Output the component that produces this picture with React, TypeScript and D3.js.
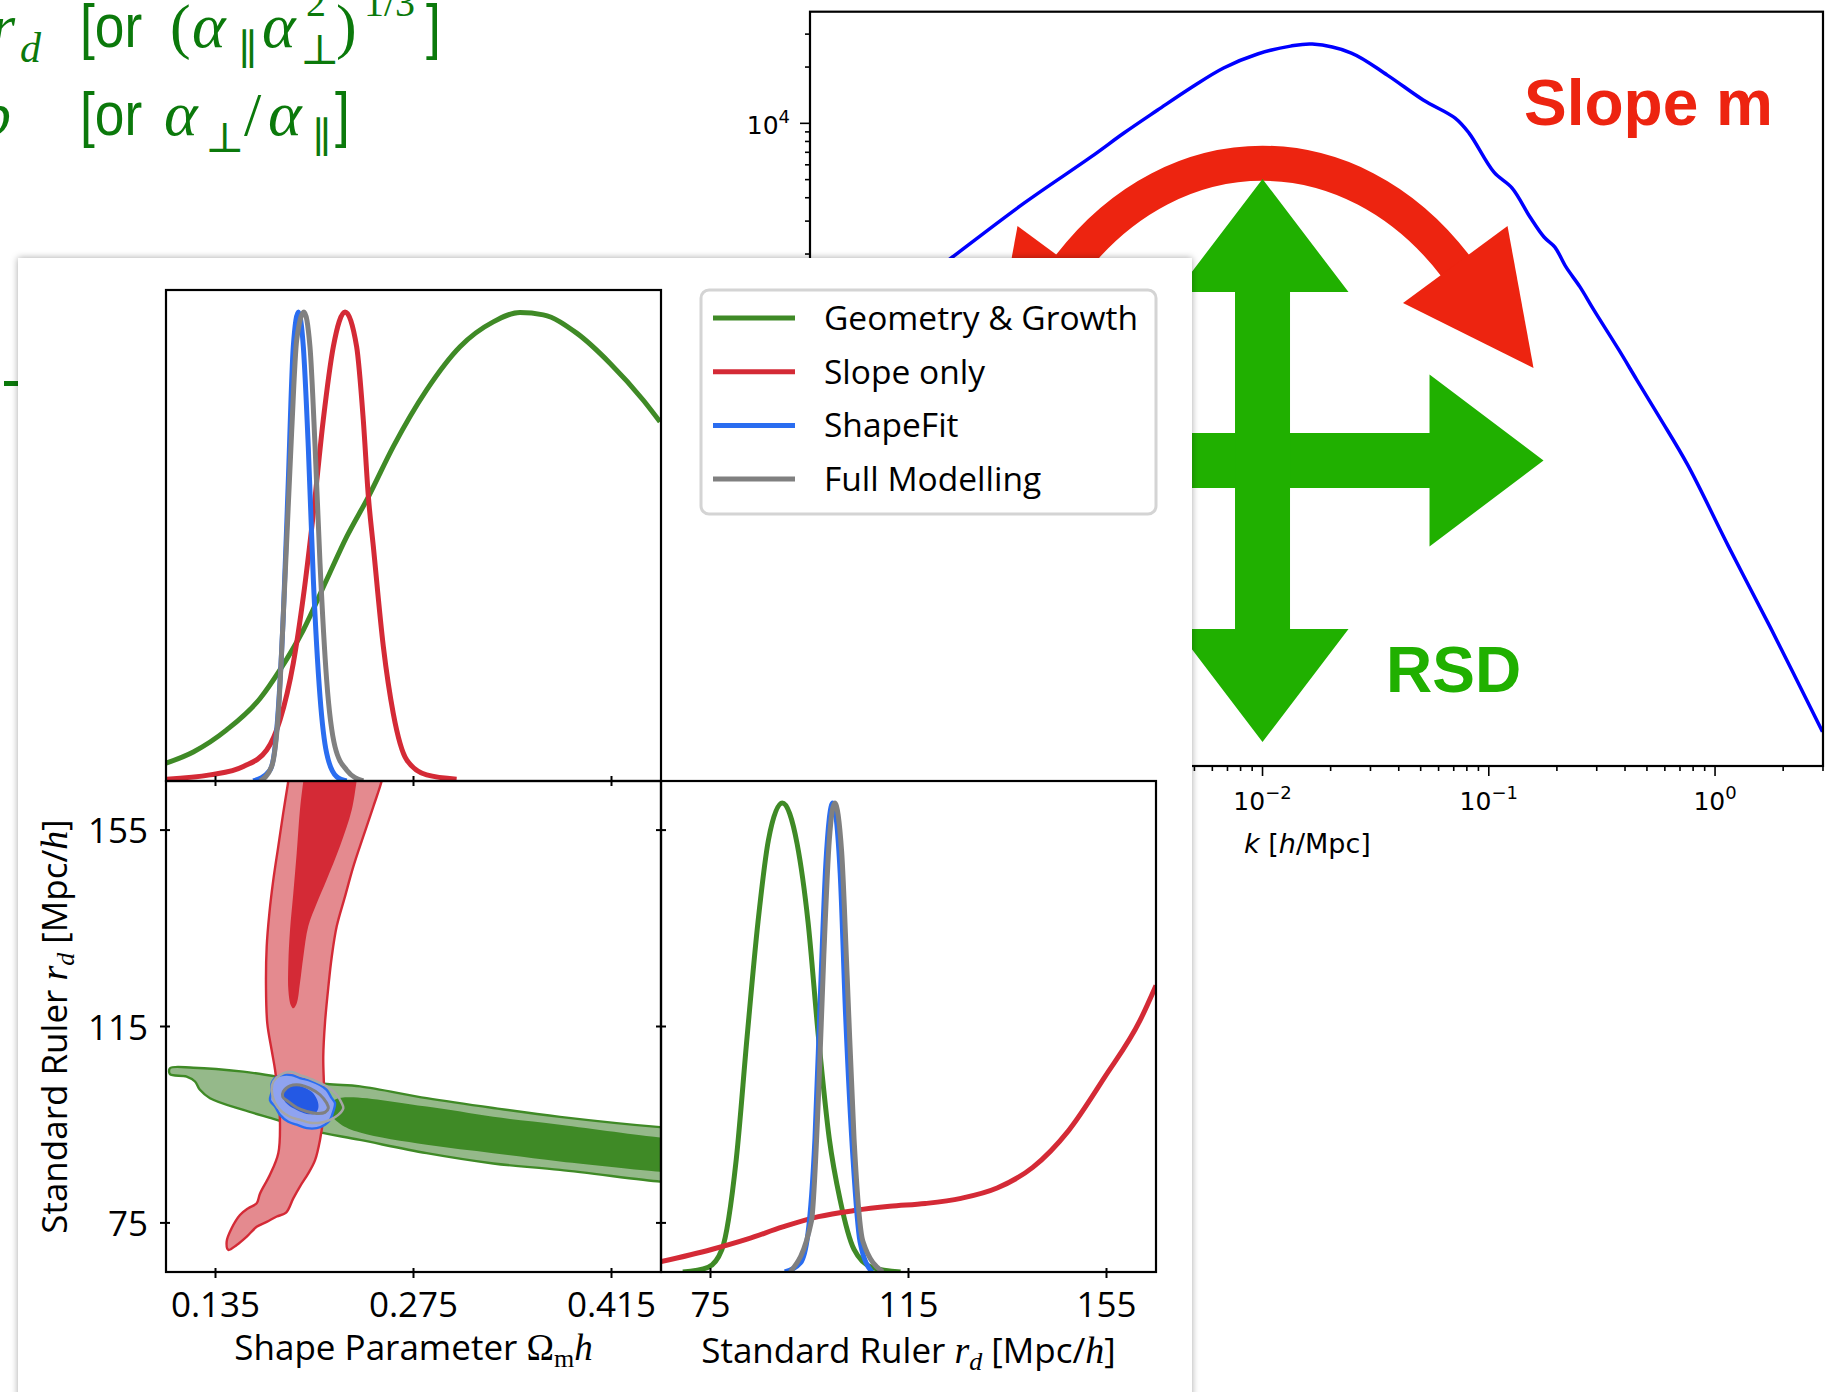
import React from 'react';
import * as d3 from 'd3';

const WIDTH = 1840;
const HEIGHT = 1392;

// ---------- background slide: linear matter power spectrum P(k) ----------
const pkK = [1.0e-4, 2.0e-4, 4.21e-4, 8.83e-4, 1.74e-3, 2.44e-3, 3.44e-3, 4.81e-3, 6.73e-3, 9.51e-3, 0.0133, 0.0166, 0.0247, 0.0356, 0.0513, 0.071, 0.0818, 0.1054, 0.1268, 0.1521, 0.1754, 0.1959, 0.2193, 0.2529, 0.2911, 0.3758, 0.4508, 0.5702, 0.7568, 1.148, 1.758, 2.985];
const pkP = [501, 955, 1905, 3741, 6592, 8872, 11776, 15453, 19770, 23496, 25882, 26546, 23768, 18113, 13335, 10666, 8872, 5483, 4508, 3155, 2466, 2178, 1706, 1334, 1005, 614, 425, 266, 149, 54.5, 20.1, 5.58];
const pkDomainK = [1e-4, 3];
const pkDomainP = [3.656, 39540];

// ---------- corner plot axes ----------
const omegaDomain = [0.1, 0.45];
const rdDomain = [65, 165];
const omegaTicks = [0.135, 0.275, 0.415];
const rdTicks = [75, 115, 155];

// ---------- 1D marginals in Omega_m h (peak-normalised) ----------
const omGeoX = [0.1, 0.1193, 0.1429, 0.1665, 0.1806, 0.1971, 0.2136, 0.2278, 0.2431, 0.2607, 0.2843, 0.3079, 0.3314, 0.3503, 0.3668, 0.3904, 0.4139, 0.4375, 0.4493];
const omGeoP = [0.038, 0.062, 0.109, 0.176, 0.237, 0.322, 0.429, 0.521, 0.606, 0.713, 0.834, 0.926, 0.979, 0.999, 0.994, 0.955, 0.891, 0.812, 0.766];
const omSlopeX = [0.1005, 0.1311, 0.1547, 0.1712, 0.1806, 0.19, 0.1971, 0.2042, 0.2112, 0.2183, 0.2266, 0.2348, 0.2395, 0.2431, 0.2466, 0.2537, 0.2607, 0.2702, 0.2843, 0.3055];
const omSlopeP = [0.004, 0.013, 0.031, 0.066, 0.13, 0.251, 0.393, 0.571, 0.77, 0.926, 1.0, 0.926, 0.77, 0.606, 0.5, 0.286, 0.144, 0.045, 0.013, 0.004];
const omShapeX = [0.1617, 0.1735, 0.1783, 0.183, 0.1865, 0.19, 0.1936, 0.1971, 0.2006, 0.2042, 0.2089, 0.2136, 0.2207, 0.2278];
const omShapeP = [0.0, 0.023, 0.109, 0.358, 0.642, 0.926, 1.0, 0.926, 0.713, 0.429, 0.18, 0.059, 0.009, 0.0];
const omFullX = [0.1665, 0.1747, 0.1794, 0.1841, 0.1889, 0.1924, 0.1976, 0.2018, 0.2054, 0.2089, 0.2136, 0.2195, 0.2278, 0.2395];
const omFullP = [0.0, 0.031, 0.144, 0.429, 0.748, 0.94, 1.0, 0.926, 0.713, 0.464, 0.215, 0.073, 0.023, 0.0];

// ---------- 1D marginals in r_d ----------
const rdGeoX = [69.4, 74.5, 77.3, 80.2, 82.4, 84.6, 86.7, 89.5, 92.5, 94.7, 96.8, 99.0, 101.2, 104.0, 107.6, 113.4];
const rdGeoP = [0.0, 0.01, 0.048, 0.24, 0.502, 0.747, 0.921, 1.0, 0.913, 0.747, 0.502, 0.284, 0.153, 0.048, 0.01, 0.0];
const rdSlopeX = [65, 75.2, 82.4, 89.6, 96.8, 104, 111.2, 118.4, 125.6, 132.9, 140.1, 147.3, 154.6, 161.8, 165];
const rdSlopeP = [0.022, 0.048, 0.07, 0.096, 0.118, 0.131, 0.14, 0.146, 0.157, 0.179, 0.223, 0.301, 0.415, 0.537, 0.611];
const rdShapeX = [90.0, 93.2, 94.7, 96.1, 97.2, 98.3, 99.7, 101.2, 102.3, 103.8, 105.2, 107.6];
const rdShapeP = [0.0, 0.02, 0.083, 0.284, 0.59, 0.87, 1.0, 0.85, 0.546, 0.24, 0.065, 0.0];
const rdFullX = [91.1, 95.4, 96.8, 97.9, 99.0, 100.1, 101.5, 102.6, 104.0, 105.8, 109.8];
const rdFullP = [0.0, 0.109, 0.371, 0.677, 0.921, 1.0, 0.895, 0.633, 0.284, 0.065, 0.0];

// ---------- 2D contours (Omega_m h, r_d) ----------
const slope95 = [
  [0.188, 168], [0.1865, 165.0], [0.1829, 158.5], [0.1794, 151.7], [0.1759, 144.9], [0.1731, 138.1], [0.1712, 131.3],
  [0.1707, 123.1], [0.1716, 115.7], [0.1747, 110.2], [0.1771, 106.2], [0.1794, 100.7], [0.1806, 95.3], [0.1794, 89.2],
  [0.1735, 84.8], [0.1665, 81.0], [0.1641, 79.0], [0.1582, 78.0], [0.1523, 76.6], [0.1464, 73.9], [0.1429, 71.2],
  [0.1441, 69.5], [0.15, 70.5], [0.1571, 72.2], [0.1641, 74.2], [0.1712, 75.2], [0.1783, 76.3], [0.1849, 77.1],
  [0.19, 80.0], [0.1947, 82.4], [0.2006, 85.1], [0.2054, 87.8], [0.2089, 91.9], [0.2112, 96.6], [0.2117, 102.1],
  [0.2112, 108.9], [0.2124, 115.7], [0.2148, 123.1], [0.2172, 129.2], [0.2207, 135.4], [0.2266, 141.5],
  [0.2325, 147.6], [0.2395, 153.7], [0.2466, 159.8], [0.2525, 165.0], [0.2545, 168],
];
const slope68 = [
  [0.1985, 168], [0.1971, 165.0], [0.1947, 159.1], [0.1924, 150.3], [0.19, 142.1], [0.1877, 134.7], [0.1865, 127.9],
  [0.1865, 122.5], [0.1882, 119.4], [0.19, 118.7], [0.1924, 119.7], [0.1947, 123.8], [0.1971, 129.2], [0.2006, 135.4],
  [0.2066, 140.1], [0.2136, 144.9], [0.223, 151.7], [0.2313, 159.1], [0.2348, 165.0], [0.2365, 168],
];
const geo95 = [
  [0.1028, 106.5], [0.1193, 106.6], [0.1547, 105.8], [0.1783, 104.8], [0.2136, 103.3], [0.2372, 102.8], [0.2843, 100.4],
  [0.3314, 98.4], [0.3786, 96.6], [0.4493, 94.5], [0.46, 94.3], [0.46, 83.2], [0.4493, 83.4], [0.3786, 85.8],
  [0.3314, 87.1], [0.2843, 89.2], [0.2372, 91.9], [0.2018, 93.9], [0.1783, 96.0], [0.1547, 98.0], [0.1311, 100.4],
  [0.124, 102.1], [0.1205, 103.8], [0.1146, 104.8], [0.1028, 105.3],
];
const geo68 = [
  [0.215, 98.0], [0.22, 100.2], [0.2843, 98.7], [0.3314, 96.6], [0.3786, 95.0], [0.4493, 92.4], [0.46, 92.2],
  [0.46, 85.2], [0.4493, 85.4], [0.3786, 87.5], [0.3314, 89.2], [0.2843, 90.9], [0.2372, 93.4], [0.223, 95.2],
];
const shape95 = [
  [0.1771, 104.5], [0.1818, 105.1], [0.1889, 105.1], [0.1947, 104.5], [0.2018, 104.0], [0.2089, 103.1], [0.2136, 102.1],
  [0.2172, 100.4], [0.2195, 99.4], [0.2183, 97.7], [0.216, 96.0], [0.2124, 95.0], [0.2066, 94.3], [0.1995, 94.3],
  [0.1924, 95.0], [0.1865, 95.6], [0.1806, 97.0], [0.1771, 98.7], [0.1735, 100.0], [0.1747, 101.7], [0.1747, 103.4],
];
const shape68 = [
  [0.1841, 102.1], [0.1889, 102.9], [0.1959, 102.8], [0.203, 101.7], [0.207, 100.0], [0.2077, 98.4], [0.2054, 97.3],
  [0.1995, 97.2], [0.1924, 98.0], [0.1865, 99.0], [0.1829, 100.4],
];
const full95 = [
  [0.1759, 103.8], [0.1806, 105.1], [0.1877, 105.8], [0.1947, 105.1], [0.2042, 104.1], [0.2136, 102.8], [0.2207, 101.1],
  [0.2242, 99.4], [0.2254, 98.4], [0.2218, 97.0], [0.216, 96.0], [0.2089, 95.4], [0.2018, 95.4], [0.1947, 96.0],
  [0.1877, 96.6], [0.1818, 97.7], [0.1771, 99.4], [0.1747, 102.1],
];
const full68 = [
  [0.1829, 101.7], [0.1877, 102.9], [0.1947, 103.1], [0.2018, 102.4], [0.2089, 101.1], [0.2136, 99.4], [0.2148, 98.4],
  [0.2124, 97.5], [0.2066, 97.3], [0.1995, 97.7], [0.1924, 98.5], [0.1865, 99.7], [0.1825, 100.7],
];

const legendItems = [
  { label: 'Geometry & Growth', color: '#3f8a26' },
  { label: 'Slope only', color: '#d42a36' },
  { label: 'ShapeFit', color: '#2a6df0' },
  { label: 'Full Modelling', color: '#808080' },
];

const GREEN = '#3f8a26';
const GREEN_LIGHT = '#95b98a';
const RED = '#d42a36';
const RED_LIGHT = '#e48a8f';
const BLUE = '#2a6df0';
const BLUE_DARK = '#2459e4';
const BLUE_LIGHT = '#8fa3f0';
const GRAY = '#808080';
const GRAY_LIGHT = '#a6a6a6';

const SLIDE_GREEN = '#0b790b';
const ARROW_GREEN = '#20b000';
const ARROW_RED = '#ed2410';

const SANS = "'Open Sans', 'DejaVu Sans', sans-serif";
const MATH = "'Liberation Serif', 'DejaVu Serif', serif";
const HELV = "'Liberation Sans', Arial, sans-serif";
const MPL = "'DejaVu Sans', sans-serif";

// condensed sans text used on the slide
function Narrow({ x, y, children }: { x: number; y: number; children: React.ReactNode }) {
  return (
    <text transform={`translate(${x},${y}) scale(0.86,1)`} fontFamily={HELV} fontSize={62}>
      {children}
    </text>
  );
}

export default function App() {
  // ---- power spectrum scales ----
  const xPS = d3.scaleLog().domain(pkDomainK).range([810, 1823]);
  const yPS = d3.scaleLog().domain(pkDomainP).range([766, 11.7]);
  const psLine = d3
    .line<number>()
    .x((_, i) => xPS(pkK[i]))
    .y((_, i) => yPS(pkP[i]))
    .curve(d3.curveCatmullRom.alpha(0.5));
  const isPow10 = (v: number) => Math.abs(Math.log10(v) - Math.round(Math.log10(v))) < 1e-9;
  const xTicksPS = xPS.ticks();
  const yTicksPS = yPS.ticks();
  const ax = xPS(0.01);

  // ---- corner plot scales ----
  const PX0 = 166, PX1 = 661, PX2 = 1156;
  const PY0 = 290, PY1 = 781, PY2 = 1272;
  const xOm = d3.scaleLinear().domain(omegaDomain).range([PX0, PX1]);
  const yRd = d3.scaleLinear().domain(rdDomain).range([PY2, PY1]);
  const xRd = d3.scaleLinear().domain(rdDomain).range([PX1, PX2]);
  const yTop = d3.scaleLinear().domain([0, 1.047]).range([PY1, PY0]);
  const yRight = d3.scaleLinear().domain([0, 1.047]).range([PY2, PY1]);

  const topLine = (xs: number[], ps: number[]) =>
    d3.line<number>().x((_, i) => xOm(xs[i])).y((_, i) => yTop(ps[i])).curve(d3.curveMonotoneX)(xs) || '';
  const rightLine = (xs: number[], ps: number[]) =>
    d3.line<number>().x((_, i) => xRd(xs[i])).y((_, i) => yRight(ps[i])).curve(d3.curveMonotoneX)(xs) || '';
  const contour = d3
    .line<number[]>()
    .x((d) => xOm(d[0]))
    .y((d) => yRd(d[1]))
    .curve(d3.curveCatmullRomClosed.alpha(0.5));

  // red curved arrow (cubic Bezier centreline)
  const arcPath = `M${ax - 193},266 C${ax - 88},129 ${ax + 88},129 ${ax + 193},266`;
  const headR = `${ax + 140.5},303 ${ax + 245},226 ${ax + 271},368`;
  const headL = `${ax - 140.5},303 ${ax - 245},226 ${ax - 271},368`;
  const vArrow = [
    [ax, 179], [ax + 86, 292], [ax + 27.5, 292], [ax + 27.5, 629], [ax + 86, 629], [ax, 742],
    [ax - 86, 629], [ax - 27.5, 629], [ax - 27.5, 292], [ax - 86, 292],
  ].map((p) => p.join(',')).join(' ');
  const hArrow = [
    [ax - 320, 433], [ax + 167, 433], [ax + 167, 374.5], [ax + 281, 460.5], [ax + 167, 546.5],
    [ax + 167, 488], [ax - 320, 488],
  ].map((p) => p.join(',')).join(' ');

  const lw1D = 5;

  return (
    <svg
      width={WIDTH}
      height={HEIGHT}
      viewBox={`0 0 ${WIDTH} ${HEIGHT}`}
      style={{ position: 'absolute', left: 0, top: 0, background: '#fff' }}
    >
      <defs>
        <filter id="cardShadow" x="-3%" y="-3%" width="106%" height="106%">
          <feDropShadow dx="0" dy="0" stdDeviation="3.5" floodColor="#000" floodOpacity="0.35" />
        </filter>
        <clipPath id="clipTop"><rect x={PX0} y={PY0} width={PX1 - PX0} height={PY1 - PY0} /></clipPath>
        <clipPath id="clip2D"><rect x={PX0} y={PY1} width={PX1 - PX0} height={PY2 - PY1} /></clipPath>
        <clipPath id="clipRight"><rect x={PX1} y={PY1} width={PX2 - PX1} height={PY2 - PY1} /></clipPath>
      </defs>
      <rect x={0} y={0} width={WIDTH} height={HEIGHT} fill="#fff" />

      {/* ---------- slide text ---------- */}
      <g fill={SLIDE_GREEN}>
        <text x={-9} y={47} fontFamily={MATH} fontStyle="italic" fontSize={62}>r</text>
        <text x={20} y={62} fontFamily={MATH} fontStyle="italic" fontSize={42}>d</text>
        <Narrow x={80} y={47}>[or</Narrow>
        <text x={170} y={47} fontFamily={MATH} fontSize={62}>(</text>
        <text x={192} y={47} fontFamily={MATH} fontStyle="italic" fontSize={64}>α</text>
        <text x={238} y={64} fontFamily={MATH} fontSize={42}>∥</text>
        <text x={262} y={47} fontFamily={MATH} fontStyle="italic" fontSize={64}>α</text>
        <text x={306} y={16} fontFamily={MATH} fontSize={40}>2</text>
        <text x={300} y={64} fontFamily={MATH} fontSize={42}>⊥</text>
        <text x={336} y={47} fontFamily={MATH} fontSize={62}>)</text>
        <text x={364} y={16} fontFamily={MATH} fontSize={40}>1/3</text>
        <Narrow x={426} y={47}>]</Narrow>

        <text x={-20} y={135} fontFamily={MATH} fontStyle="italic" fontSize={62}>b</text>
        <Narrow x={80} y={135}>[or</Narrow>
        <text x={164} y={135} fontFamily={MATH} fontStyle="italic" fontSize={64}>α</text>
        <text x={205} y={152} fontFamily={MATH} fontSize={42}>⊥</text>
        <text x={244} y={135} fontFamily={MATH} fontSize={62}>/</text>
        <text x={268} y={135} fontFamily={MATH} fontStyle="italic" fontSize={64}>α</text>
        <text x={312} y={152} fontFamily={MATH} fontSize={42}>∥</text>
        <Narrow x={335} y={135}>]</Narrow>
        <rect x={4} y={381} width={14} height={5} />
      </g>

      {/* ---------- power spectrum panel ---------- */}
      <g>
        <path d={psLine(pkK) || ''} fill="none" stroke="#0000ff" strokeWidth={3.5} />
        <rect x={810} y={11.7} width={1013} height={754.3} fill="none" stroke="#000" strokeWidth={2.2} />
        {xTicksPS.map((t, i) => (
          <line key={`xt${i}`} x1={xPS(t)} x2={xPS(t)} y1={766} y2={766 + (isPow10(t) ? 10 : 5)} stroke="#000" strokeWidth={1.6} />
        ))}
        {yTicksPS.map((t, i) => (
          <line key={`yt${i}`} x1={810} x2={810 - (isPow10(t) ? 10 : 5)} y1={yPS(t)} y2={yPS(t)} stroke="#000" strokeWidth={1.6} />
        ))}
        {xTicksPS.filter(isPow10).map((t, i) => (
          <text key={`xl${i}`} x={xPS(t)} y={810} textAnchor="middle" fontFamily={MPL} fontSize={25}>
            10<tspan fontSize={18} dy={-11}>{Math.round(Math.log10(t)) === 0 ? '0' : `−${Math.abs(Math.round(Math.log10(t)))}`}</tspan>
          </text>
        ))}
        {yTicksPS.filter(isPow10).map((t, i) => (
          <text key={`yl${i}`} x={790} y={yPS(t) + 11} textAnchor="end" fontFamily={MPL} fontSize={25}>
            10<tspan fontSize={18} dy={-11}>{Math.round(Math.log10(t))}</tspan>
          </text>
        ))}
        <text x={1244} y={853} fontFamily={MPL} fontSize={27}>
          <tspan fontStyle="italic">k</tspan>
          <tspan>{'  ['}</tspan>
          <tspan fontStyle="italic">h</tspan>
          <tspan>/Mpc]</tspan>
        </text>
      </g>

      {/* ---------- annotations ---------- */}
      <path d={arcPath} fill="none" stroke={ARROW_RED} strokeWidth={35} />
      <polygon points={headR} fill={ARROW_RED} />
      <polygon points={headL} fill={ARROW_RED} />
      <polygon points={hArrow} fill={ARROW_GREEN} />
      <polygon points={vArrow} fill={ARROW_GREEN} />
      <text x={1524} y={125} fontFamily={HELV} fontWeight="bold" fontSize={64} fill={ARROW_RED}>Slope m</text>
      <text x={1386} y={692} fontFamily={HELV} fontWeight="bold" fontSize={64} fill={ARROW_GREEN}>RSD</text>

      {/* ---------- overlaid card ---------- */}
      <rect x={18} y={258} width={1174} height={1200} fill="#fff" filter="url(#cardShadow)" />

      {/* top panel: 1D Omega_m h */}
      <g clipPath="url(#clipTop)" fill="none">
        <path d={topLine(omGeoX, omGeoP)} stroke={GREEN} strokeWidth={lw1D} />
        <path d={topLine(omSlopeX, omSlopeP)} stroke={RED} strokeWidth={lw1D} />
        <path d={topLine(omShapeX, omShapeP)} stroke={BLUE} strokeWidth={lw1D} />
        <path d={topLine(omFullX, omFullP)} stroke={GRAY} strokeWidth={lw1D} />
      </g>

      {/* 2D panel */}
      <g clipPath="url(#clip2D)">
        <path d={contour(geo95) || ''} fill={GREEN_LIGHT} stroke={GREEN} strokeWidth={2.4} />
        <path d={contour(geo68) || ''} fill={GREEN} stroke="none" />
        <path d={contour(slope95) || ''} fill={RED_LIGHT} stroke={RED} strokeWidth={2.4} />
        <path d={contour(slope68) || ''} fill={RED} stroke="none" />
        <path d={contour(shape95) || ''} fill={BLUE_LIGHT} stroke={BLUE} strokeWidth={2.4} />
        <path d={contour(shape68) || ''} fill={BLUE_DARK} stroke="none" />
        <path d={contour(full95) || ''} fill="none" stroke={GRAY_LIGHT} strokeWidth={2.5} />
        <path d={contour(full68) || ''} fill="none" stroke={GRAY} strokeWidth={3} />
      </g>

      {/* right panel: 1D r_d */}
      <g clipPath="url(#clipRight)" fill="none">
        <path d={rightLine(rdGeoX, rdGeoP)} stroke={GREEN} strokeWidth={lw1D} />
        <path d={rightLine(rdSlopeX, rdSlopeP)} stroke={RED} strokeWidth={lw1D} />
        <path d={rightLine(rdShapeX, rdShapeP)} stroke={BLUE} strokeWidth={lw1D} />
        <path d={rightLine(rdFullX, rdFullP)} stroke={GRAY} strokeWidth={lw1D} />
      </g>

      {/* frames */}
      <g fill="none" stroke="#000" strokeWidth={2.2}>
        <rect x={PX0} y={PY0} width={PX1 - PX0} height={PY1 - PY0} />
        <rect x={PX0} y={PY1} width={PX1 - PX0} height={PY2 - PY1} />
        <rect x={PX1} y={PY1} width={PX2 - PX1} height={PY2 - PY1} />
      </g>

      {/* ticks */}
      <g stroke="#000" strokeWidth={2}>
        {omegaTicks.map((t) => (
          <g key={`om${t}`}>
            <line x1={xOm(t)} x2={xOm(t)} y1={PY1 - 5} y2={PY1 + 5} />
            <line x1={xOm(t)} x2={xOm(t)} y1={PY2 - 4} y2={PY2 + 6} />
          </g>
        ))}
        {rdTicks.map((t) => (
          <g key={`rd${t}`}>
            <line x1={PX0 - 6} x2={PX0 + 4} y1={yRd(t)} y2={yRd(t)} />
            <line x1={PX1 - 5} x2={PX1 + 5} y1={yRd(t)} y2={yRd(t)} />
            <line x1={xRd(t)} x2={xRd(t)} y1={PY2 - 4} y2={PY2 + 6} />
          </g>
        ))}
      </g>

      {/* tick labels */}
      <g fontFamily={SANS} fontSize={35} fill="#000">
        {omegaTicks.map((t) => (
          <text key={`oml${t}`} x={xOm(t)} y={1317} textAnchor="middle">{t.toFixed(3)}</text>
        ))}
        {rdTicks.map((t) => (
          <text key={`rdl${t}`} x={xRd(t)} y={1317} textAnchor="middle">{t}</text>
        ))}
        {rdTicks.map((t) => (
          <text key={`rdy${t}`} x={148} y={yRd(t) + 13} textAnchor="end">{t}</text>
        ))}
      </g>

      {/* axis labels */}
      <g fontFamily={SANS} fontSize={35} fill="#000">
        <text x={(PX0 + PX1) / 2} y={1360} textAnchor="middle">
          Shape Parameter <tspan fontFamily={MATH} fontSize={37}>Ω</tspan>
          <tspan fontFamily={MATH} fontSize={26} dy={7}>m</tspan>
          <tspan fontFamily={MATH} fontStyle="italic" fontSize={37} dy={-7}>h</tspan>
        </text>
        <text x={(PX1 + PX2) / 2} y={1363} textAnchor="middle">
          Standard Ruler <tspan fontFamily={MATH} fontStyle="italic" fontSize={38}>r</tspan>
          <tspan fontFamily={MATH} fontStyle="italic" fontSize={26} dy={7}>d</tspan>
          <tspan dy={-7}> [Mpc/</tspan>
          <tspan fontFamily={MATH} fontStyle="italic" fontSize={38}>h</tspan>
          <tspan>]</tspan>
        </text>
        <text transform={`translate(67,${(PY1 + PY2) / 2}) rotate(-90)`} textAnchor="middle">
          Standard Ruler <tspan fontFamily={MATH} fontStyle="italic" fontSize={38}>r</tspan>
          <tspan fontFamily={MATH} fontStyle="italic" fontSize={26} dy={7}>d</tspan>
          <tspan dy={-7}> [Mpc/</tspan>
          <tspan fontFamily={MATH} fontStyle="italic" fontSize={38}>h</tspan>
          <tspan>]</tspan>
        </text>
      </g>

      {/* legend */}
      <rect x={701} y={290} width={455} height={224} rx={8} fill="#fff" stroke="#d4d4d4" strokeWidth={3} />
      {legendItems.map((it, i) => {
        const y = 318 + i * 53.7;
        return (
          <g key={it.label}>
            <line x1={713} x2={795} y1={y} y2={y} stroke={it.color} strokeWidth={5} />
            <text x={824} y={y + 12} fontFamily={SANS} fontSize={33.5} fill="#000">{it.label}</text>
          </g>
        );
      })}
    </svg>
  );
}
